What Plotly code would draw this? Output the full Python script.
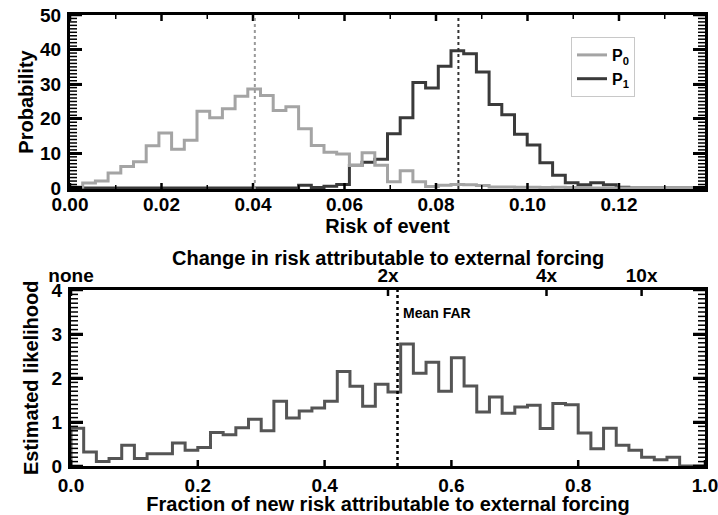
import numpy as np
import plotly.graph_objects as go

# ---------------- data ----------------
risk_max = 0.1388          # upper edge of the risk histogram
n_risk_bins = 50
p0_hist = [0.3, 1.4, 2.0, 4.3, 6.2, 7.6, 12.2, 15.9, 11.2, 13.8,
           22.2, 20.3, 22.9, 26.5, 28.6, 26.7, 22.4, 23.5, 17.1, 12.3,
           10.3, 9.8, 6.5, 10.2, 6.6, 1.8, 5.0, 1.8, 0.4, 0.8,
           1.0, 0.9, 0.7, 0.3, 0.3, 0.2, 0.2, 0.1, 0.2, 0.1,
           0.1, 0.0, 0.0, 0.0, 0.0, 0.0, 0.0, 0.0, 0.0, 0.0]
p1_hist = [0.0, 0.0, 0.0, 0.0, 0.0, 0.0, 0.0, 0.0, 0.0, 0.0,
           0.0, 0.0, 0.0, 0.0, 0.0, 0.0, 0.0, 0.0, 0.8, 0.1,
           0.5, 1.0, 6.6, 7.4, 8.3, 15.7, 20.3, 30.5, 28.9, 35.2,
           39.7, 38.8, 33.5, 24.1, 21.2, 15.5, 12.4, 7.3, 3.7, 1.5,
           0.9, 1.5, 0.9, 0.2, 0.0, 0.0, 0.0, 0.0, 0.0, 0.0]
p0_mean = 0.0404
p1_mean = 0.0849

far_max = 1.0
n_far_bins = 50
far_hist = [0.86, 0.32, 0.10, 0.17, 0.47, 0.17, 0.28, 0.28, 0.52, 0.36,
            0.42, 0.76, 0.71, 0.87, 1.06, 0.80, 1.47, 1.09, 1.25, 1.32,
            1.47, 2.15, 1.81, 1.36, 1.86, 1.68, 2.77, 2.11, 2.36, 1.70,
            2.46, 1.82, 1.23, 1.57, 1.20, 1.34, 1.38, 0.85, 1.42, 1.39,
            0.75, 0.39, 0.86, 0.47, 0.36, 0.20, 0.14, 0.20, 0.00, 0.00]
mean_far = 0.515

risk_ticks = [0.00, 0.02, 0.04, 0.06, 0.08, 0.10, 0.12]
risk_minor_ticks = [0.01, 0.03, 0.05, 0.07, 0.09, 0.11, 0.13]
prob_ticks = [0, 10, 20, 30, 40, 50]
prob_minor_step = 1
far_ticks = [0.0, 0.2, 0.4, 0.6, 0.8, 1.0]
lik_ticks = [0, 1, 2, 3, 4]
lik_minor_step = 0.1
change_tickvals = [0.0, 0.5, 0.75, 0.9]
change_ticktext = ["none", "2x", "4x", "10x"]

# ---------------- geometry ----------------
FONT = "Liberation Sans, Arial, sans-serif"
W, H = 718, 515
TOP = dict(left=70, right=705, top=15, bottom=189, xr=[0, risk_max], yr=[-0.3, 50])
BOT = dict(left=71, right=705, top=290, bottom=466, xr=[0, far_max], yr=[0, 4])

def px_x(p):
    return p / W

def px_y(p):
    return 1 - p / H

def step_xy(edges, vals):
    x = [edges[0]] + list(edges)
    y = [0.0] + list(vals) + [vals[-1]]
    return x, y

risk_edges = np.linspace(0, risk_max, n_risk_bins + 1)
far_edges = np.linspace(0, far_max, n_far_bins + 1)

fig = go.Figure()

x1, y1 = step_xy(risk_edges, p1_hist)
fig.add_trace(go.Scatter(x=x1, y=y1, mode="lines", line=dict(shape="hv", color="#3a3a3a", width=3),
                         name="P<sub>1</sub>", xaxis="x", yaxis="y"))
x0, y0 = step_xy(risk_edges, p0_hist)
fig.add_trace(go.Scatter(x=x0, y=y0, mode="lines", line=dict(shape="hv", color="#a4a4a4", width=3),
                         name="P<sub>0</sub>", xaxis="x", yaxis="y"))
xf, yf = step_xy(far_edges, far_hist)
fig.add_trace(go.Scatter(x=xf, y=yf + [0.0], mode="lines", line=dict(shape="hv", color="#555555", width=3),
                         showlegend=False, xaxis="x2", yaxis="y2"))
# invisible trace to activate the top axis of the lower panel
fig.add_trace(go.Scatter(x=[0, 1], y=[None, None], mode="lines", showlegend=False,
                         hoverinfo="skip", xaxis="x3", yaxis="y2"))

# ---------------- tick marks as line segments in axis coordinates ----------------
def add_ticks(panel, xa, ya, yvals, ylen, xvals_bottom, xvals_top, xlen, width):
    dx = (panel["xr"][1] - panel["xr"][0]) / (panel["right"] - panel["left"])
    dy = (panel["yr"][1] - panel["yr"][0]) / (panel["bottom"] - panel["top"])
    xs, ys = [], []
    for v in yvals:
        xs += [panel["xr"][0], panel["xr"][0] + ylen * dx, None,
               panel["xr"][1] - ylen * dx, panel["xr"][1], None]
        ys += [v, v, None, v, v, None]
    for v in xvals_bottom:
        xs += [v, v, None]
        ys += [panel["yr"][0], panel["yr"][0] + xlen * dy, None]
    for v in xvals_top:
        xs += [v, v, None]
        ys += [panel["yr"][1] - xlen * dy, panel["yr"][1], None]
    fig.add_trace(go.Scatter(x=xs, y=ys, mode="lines", line=dict(color="black", width=width),
                             showlegend=False, hoverinfo="skip", xaxis=xa, yaxis=ya))

prob_minor = [float(v) for v in np.arange(prob_ticks[0], prob_ticks[-1] + 1e-9, prob_minor_step)
              if v not in prob_ticks]
lik_minor = [float(v) for v in np.arange(lik_ticks[0], lik_ticks[-1] + 1e-9, lik_minor_step)
             if min(abs(v - t) for t in lik_ticks) > 1e-6]

add_ticks(TOP, "x", "y", prob_minor, 7, risk_minor_ticks, risk_minor_ticks, 4, 1.5)
add_ticks(TOP, "x", "y", prob_ticks, 12, risk_ticks, risk_ticks, 6, 2.5)
add_ticks(BOT, "x2", "y2", lik_minor, 7, [], [], 0, 1.5)
add_ticks(BOT, "x2", "y2", lik_ticks, 12, far_ticks, change_tickvals, 6, 2.5)

tickfont = dict(family=FONT, size=19, color="black", weight="bold")
titlefont = dict(family=FONT, size=20, color="black", weight="bold")

common_line = dict(showline=True, linewidth=3, linecolor="black", showgrid=False,
                   zeroline=False, automargin=False)
major_ticks = dict(ticks="inside", ticklen=12, tickwidth=2.5, tickcolor="black")

fig.update_layout(
    template="none",
    width=W, height=H,
    margin=dict(l=0, r=0, t=0, b=0, pad=0),
    paper_bgcolor="white", plot_bgcolor="white",
    font=dict(family=FONT, color="black", weight="bold"),
    xaxis=dict(domain=[px_x(TOP["left"]), px_x(TOP["right"])], anchor="y", range=TOP["xr"],
               tickvals=risk_ticks, tickformat=".2f", mirror=True, tickfont=tickfont,
               ticks="", ticklabelstandoff=-4, ticklabeloverflow="allow",
               title=dict(text="Risk of event", font=titlefont, standoff=0), **common_line),
    yaxis=dict(domain=[px_y(TOP["bottom"]), px_y(TOP["top"])], anchor="x", range=TOP["yr"],
               tickvals=prob_ticks, mirror="ticks", tickfont=tickfont, ticklabelstandoff=2,
               title=dict(text="Probability", font=titlefont, standoff=2),
               **major_ticks, **common_line),
    xaxis2=dict(domain=[px_x(BOT["left"]), px_x(BOT["right"])], anchor="y2", range=BOT["xr"],
                tickvals=far_ticks, tickformat=".1f", mirror=True, tickfont=tickfont,
                ticks="", ticklabeloverflow="allow",
                title=dict(text="Fraction of new risk attributable to external forcing",
                           font=titlefont, standoff=7), **common_line),
    xaxis3=dict(overlaying="x2", anchor="y2", side="top", range=BOT["xr"],
                tickvals=change_tickvals, ticktext=change_ticktext, ticks="",
                ticklabelstandoff=3, ticklabeloverflow="allow",
                showline=False, showgrid=False, zeroline=False, automargin=False, tickfont=tickfont),
    yaxis2=dict(domain=[px_y(BOT["bottom"]), px_y(BOT["top"])], anchor="x2", range=BOT["yr"],
                tickvals=lik_ticks, mirror="ticks", tickfont=tickfont, ticklabelstandoff=2,
                **major_ticks, **common_line),
    legend=dict(x=px_x(571), y=px_y(37), xanchor="left", yanchor="top",
                bordercolor="#c8c8c8", borderwidth=1, bgcolor="white",
                font=dict(family=FONT, size=16, color="black", weight="bold"),
                traceorder="reversed", itemwidth=30, tracegroupgap=0),
    shapes=[
        dict(type="line", xref="x", yref="y domain", x0=p0_mean, x1=p0_mean, y0=0, y1=1,
             line=dict(color="#999999", width=2, dash="dot")),
        dict(type="line", xref="x", yref="y domain", x0=p1_mean, x1=p1_mean, y0=0, y1=1,
             line=dict(color="#333333", width=2, dash="dot")),
        dict(type="line", xref="x2", yref="y2 domain", x0=mean_far, x1=mean_far, y0=0, y1=1,
             line=dict(color="black", width=2.5, dash="dot")),
    ],
    annotations=[
        dict(text="Mean FAR", x=mean_far, y=3.48, xref="x2", yref="y2", xanchor="left",
             yanchor="middle", xshift=3, showarrow=False,
             font=dict(family=FONT, size=14, color="black", weight="bold")),
        dict(text="Change in risk attributable to external forcing", x=0.5, xref="x2 domain",
             y=px_y(258), yref="paper", xanchor="center", yanchor="middle", showarrow=False,
             font=titlefont),
        dict(text="Estimated likelihood", x=px_x(31), xref="paper", y=0.5, yref="y2 domain",
             xanchor="center", yanchor="middle", textangle=-90, showarrow=False,
             font=titlefont),
    ],
)

fig.write_html("out.html")
